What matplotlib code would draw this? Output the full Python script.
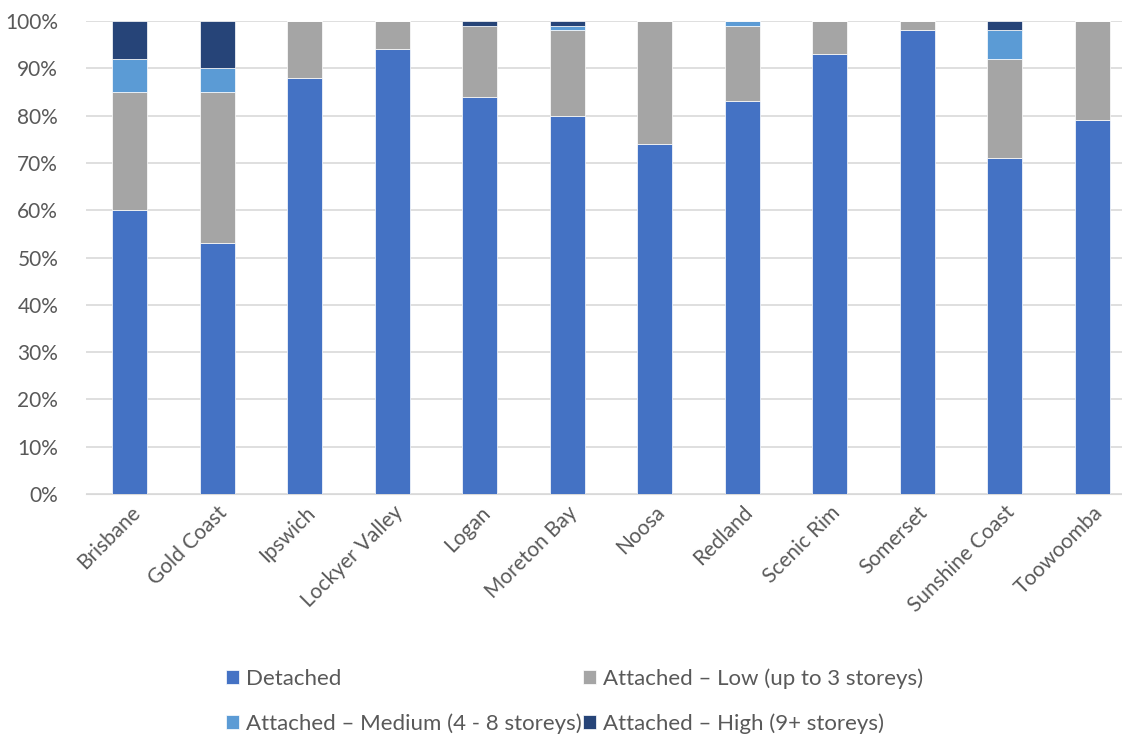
import numpy as np
from matplotlib import pyplot as plt
from matplotlib.ticker import PercentFormatter

regions = ["Brisbane", "Gold Coast", "Ipswich", "Lockyer Valley", "Logan", "Moreton Bay",
           "Noosa", "Redland", "Scenic Rim", "Somerset", "Sunshine Coast", "Toowoomba"]
detached = [60, 53, 88, 94, 84, 80, 74, 83, 93, 98, 71, 79]
low = [25, 32, 12, 6, 15, 18, 26, 16, 7, 2, 21, 21]
medium = [7, 5, 0, 0, 0, 1, 0, 1, 0, 0, 6, 0]
high = [8, 10, 0, 0, 1, 1, 0, 0, 0, 0, 2, 0]

series = [
    ("Detached", detached, "#4472C4"),
    ("Attached \u2013 Low (up to 3 storeys)", low, "#A5A5A5"),
    ("Attached \u2013 Medium (4 - 8 storeys)", medium, "#5B9BD5"),
    ("Attached \u2013 High (9+ storeys)", high, "#264478"),
]

plt.rcParams['font.family'] = ['Lato', 'DejaVu Sans']

fig = plt.figure(figsize=(11.22, 7.36), dpi=100)
ax = fig.add_axes([86 / 1122, 1 - 494 / 736, 1 - 86 / 1122, (494 - 21) / 736])

x = np.arange(len(regions))
bottom = np.zeros(len(regions))
handles = []
for name, vals, color in series:
    vals = np.array(vals, dtype=float)
    b = ax.bar(x, vals, 0.4, bottom=bottom, color=color, label=name,
               edgecolor="white", linewidth=0.5, zorder=3)
    handles.append(b)
    bottom += vals

ax.set_ylim(0, 100)
ax.set_xlim(-0.5, 11.34)
ax.set_yticks(np.arange(0, 101, 10))
ax.yaxis.set_major_formatter(PercentFormatter(decimals=0))
ax.yaxis.grid(True, color="#D9D9D9", linewidth=1.2, zorder=0)
ax.set_xticks(x)
ax.set_xticklabels(regions, rotation=45, ha="right", rotation_mode="anchor")
ax.tick_params(axis="both", length=0, labelsize=15, colors="#595959", pad=6)
ax.tick_params(axis="y", pad=20)
for s in ["top", "right", "left"]:
    ax.spines[s].set_visible(False)
ax.spines["bottom"].set_color("#D9D9D9")

order = [0, 2, 1, 3]
leg = fig.legend([handles[i] for i in order], [series[i][0] for i in order],
                 ncol=2, loc="lower center", bbox_to_anchor=(0.512, -0.024),
                 frameon=False, fontsize=16, handlelength=0.6, handleheight=0.6,
                 handletextpad=0.3, columnspacing=0.05, labelspacing=1.1)
for t in leg.get_texts():
    t.set_color("#595959")

fig.savefig("out.png")
